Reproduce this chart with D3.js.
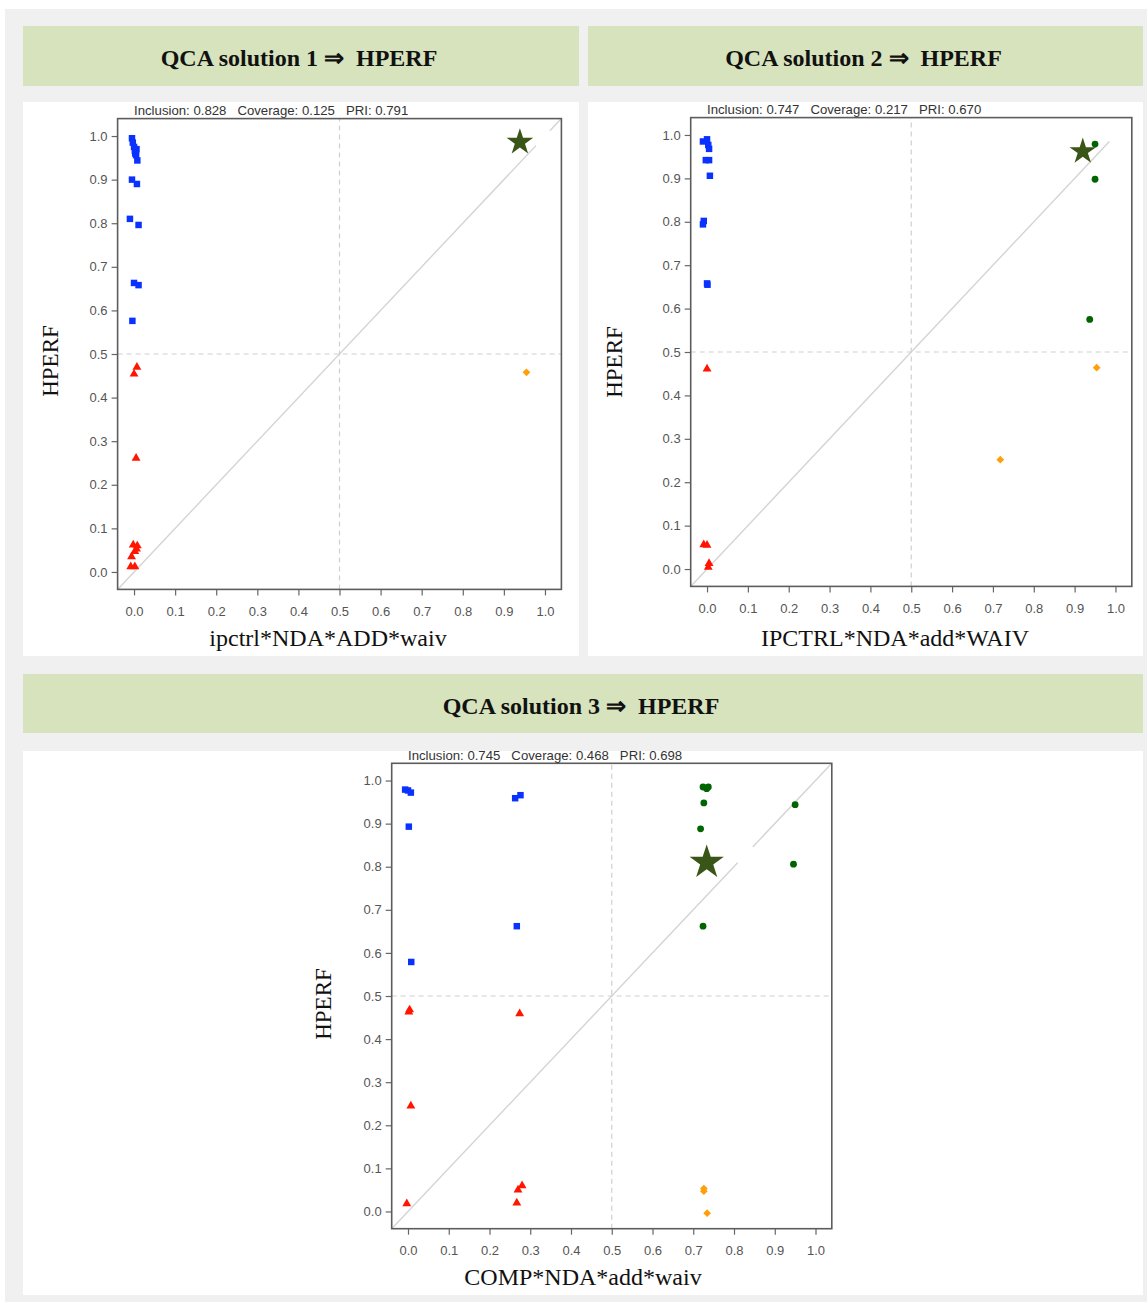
<!DOCTYPE html>
<html>
<head>
<meta charset="utf-8">
<script src="https://cdn.jsdelivr.net/npm/d3@7"></script>
<style>
	body { margin: 0; background: #fff; }
	text { white-space: pre; }
</style>
</head>
<body>
<svg id="chart" width="1147" height="1302"></svg>
<script>
// tick values shared by all three xy plots
var tickValues = [0, 0.1, 0.2, 0.3, 0.4, 0.5, 0.6, 0.7, 0.8, 0.9, 1.0];

// panel headings and fit lines
var headings = ["QCA solution 1 \u21d2  HPERF", "QCA solution 2 \u21d2  HPERF", "QCA solution 3 \u21d2  HPERF"];
var fitTitles = [
	"Inclusion: 0.828   Coverage: 0.125   PRI: 0.791",
	"Inclusion: 0.747   Coverage: 0.217   PRI: 0.670",
	"Inclusion: 0.745   Coverage: 0.468   PRI: 0.698"
];
var xLabels = ["ipctrl*NDA*ADD*waiv", "IPCTRL*NDA*add*WAIV", "COMP*NDA*add*waiv"];
var yLabel = "HPERF";

// solution 1: [membership in solution, HPERF]
var s1Squares = [[-0.005, 0.995], [-0.003, 0.985], [0.0, 0.975], [0.002, 0.966], [0.006, 0.97],
	[0.005, 0.956], [0.008, 0.944], [0.003, 0.96], [-0.005, 0.90], [0.007, 0.89],
	[-0.01, 0.81], [0.011, 0.796], [0.0, 0.663], [0.011, 0.658], [-0.004, 0.576]];
var s1Triangles = [[0.007, 0.47], [0.0, 0.454], [0.005, 0.261], [-0.002, 0.062], [0.008, 0.06],
	[0.006, 0.053], [0.002, 0.047], [-0.006, 0.035], [-0.008, 0.012], [0.002, 0.012]];
var s1Diamonds = [[0.955, 0.458]];
var s1Circles = [];
var s1Star = [0.939, 0.986];
var s1DiagGap = [0.978, 1.012];

// solution 2
var s2Squares = [[-0.01, 0.985], [0.0, 0.99], [0.003, 0.977], [0.005, 0.968], [-0.003, 0.942],
	[0.005, 0.942], [0.007, 0.906], [-0.008, 0.802], [-0.01, 0.794], [0.0, 0.658], [0.001, 0.655]];
var s2Triangles = [[0.0, 0.461], [-0.008, 0.056], [0.0, 0.055], [0.005, 0.013], [0.003, 0.004]];
var s2Diamonds = [[0.954, 0.464], [0.718, 0.252]];
var s2Circles = [[0.95, 0.979], [0.95, 0.898], [0.937, 0.575]];
var s2Star = [0.92, 0.962];
var s2DiagGap = [0.985, 1.05];

// solution 3
var s3Squares = [[-0.007, 0.979], [0.0, 0.977], [0.007, 0.972], [0.002, 0.893], [0.263, 0.959],
	[0.276, 0.966], [0.267, 0.662], [0.008, 0.579]];
var s3Triangles = [[0.004, 0.468], [0.002, 0.463], [0.274, 0.459], [0.007, 0.245], [-0.003, 0.018],
	[0.267, 0.02], [0.27, 0.05], [0.28, 0.06]];
var s3Diamonds = [[0.726, 0.053], [0.726, 0.047], [0.734, -0.004]];
var s3Circles = [[0.724, 0.985], [0.733, 0.981], [0.737, 0.985], [0.726, 0.948], [0.718, 0.888],
	[0.724, 0.662], [0.95, 0.944], [0.946, 0.806]];
var s3Star = [0.733, 0.81];
var s3DiagGap = [0.809, 0.846];

var COLORS = {
	square: "#0a32ff",
	triangle: "#ff1500",
	diamond: "#ffa00a",
	circle: "#006400",
	star: "#3a5518",
	header: "#d7e3bd",
	page: "#f0f0f0"
};
var SANS = "Liberation Sans, Arial, sans-serif";
var SERIF = "Liberation Serif, Times New Roman, serif";

var svg = d3.select("#chart");

// page background and white cards
svg.append("rect").attr("x", 5).attr("y", 9).attr("width", 1142).attr("height", 1293)
	.attr("fill", COLORS.page);

var cards = [
	{hx: 23, hy: 26, hw: 556, hh: 60, px: 23, py: 102, pw: 556, ph: 554},
	{hx: 588, hy: 26, hw: 555, hh: 60, px: 588, py: 102, pw: 555, ph: 554},
	{hx: 23, hy: 674, hw: 1120, hh: 59, px: 23, py: 751, pw: 1120, ph: 544}
];

cards.forEach(function (c, i) {
	svg.append("rect").attr("x", c.hx).attr("y", c.hy).attr("width", c.hw).attr("height", c.hh)
		.attr("fill", COLORS.header);
	svg.append("text")
		.attr("x", c.hx + c.hw / 2 - 2)
		.attr("y", c.hy + 40)
		.attr("text-anchor", "middle")
		.attr("font-family", SERIF)
		.attr("font-weight", "bold")
		.attr("font-size", "24px")
		.attr("fill", "#111")
		.text(headings[i]);
	svg.append("rect").attr("x", c.px).attr("y", c.py).attr("width", c.pw).attr("height", c.ph)
		.attr("fill", "#fff");
});

// plot geometry: pixel range for the R-style padded domain [-0.04, 1.04]
var plots = [
	{x0: 117.6, x1: 561.4, y0: 589.4, y1: 118.6, ylabX: 57.5, ylabY: 361, xlabX: 328, xlabY: 646,
		starR: 14, squares: s1Squares, triangles: s1Triangles, diamonds: s1Diamonds,
		circles: s1Circles, star: s1Star, gap: s1DiagGap},
	{x0: 690.7, x1: 1131.8, y0: 586.4, y1: 117.6, ylabX: 622, ylabY: 362, xlabX: 895, xlabY: 646,
		starR: 14, squares: s2Squares, triangles: s2Triangles, diamonds: s2Diamonds,
		circles: s2Circles, star: s2Star, gap: s2DiagGap},
	{x0: 391.7, x1: 831.8, y0: 1228.7, y1: 763.3, ylabX: 331, ylabY: 1004, xlabX: 583, xlabY: 1285,
		starR: 18, squares: s3Squares, triangles: s3Triangles, diamonds: s3Diamonds,
		circles: s3Circles, star: s3Star, gap: s3DiagGap}
];

var drawPlot = function (p, i) {
	var x = d3.scaleLinear().domain([-0.04, 1.04]).range([p.x0, p.x1]);
	var y = d3.scaleLinear().domain([-0.04, 1.04]).range([p.y0, p.y1]);
	var g = svg.append("g").attr("class", "plot");

	// diagonal (with the gap left by the pasted star)
	var diag = [[-0.04, p.gap[0]], [p.gap[1], 1.04]];
	diag.forEach(function (seg) {
		if (seg[1] <= seg[0]) {
			return;
		}
		g.append("line")
			.attr("x1", x(seg[0])).attr("y1", y(seg[0]))
			.attr("x2", x(seg[1])).attr("y2", y(seg[1]))
			.attr("stroke", "#d4d4d4").attr("stroke-width", 1.4);
	});

	// 0.5 crossover lines
	g.append("line")
		.attr("x1", x(0.5)).attr("x2", x(0.5)).attr("y1", p.y0).attr("y2", p.y1)
		.attr("stroke", "#cfcfcf").attr("stroke-width", 1.2).attr("stroke-dasharray", "5,4");
	g.append("line")
		.attr("x1", p.x0).attr("x2", p.x1).attr("y1", y(0.5)).attr("y2", y(0.5))
		.attr("stroke", "#cfcfcf").attr("stroke-width", 1.2).attr("stroke-dasharray", "5,4");

	// axes
	var fmt = d3.format(".1f");
	var xAxis = g.append("g")
		.attr("transform", "translate(0," + p.y0 + ")")
		.call(d3.axisBottom(x).tickValues(tickValues).tickFormat(fmt).tickSize(6).tickPadding(11));
	var yAxis = g.append("g")
		.attr("transform", "translate(" + p.x0 + ",0)")
		.call(d3.axisLeft(y).tickValues(tickValues).tickFormat(fmt).tickSize(6).tickPadding(4));
	[xAxis, yAxis].forEach(function (a) {
		a.select(".domain").remove();
		a.selectAll("line").attr("stroke", "#666").attr("stroke-width", 1.2);
		a.selectAll("text")
			.attr("font-family", SANS)
			.attr("font-size", "13px")
			.attr("fill", "#555");
	});

	// frame
	g.append("rect")
		.attr("x", p.x0).attr("y", p.y1)
		.attr("width", p.x1 - p.x0).attr("height", p.y0 - p.y1)
		.attr("fill", "none").attr("stroke", "#5c5c5c").attr("stroke-width", 1.6);

	// fit parameters above the frame
	g.append("text")
		.attr("x", x(0))
		.attr("y", p.y1 - 3.5)
		.attr("font-family", SANS)
		.attr("font-size", "13.2px")
		.attr("fill", "#333")
		.text(fitTitles[i]);

	// axis titles
	g.append("text")
		.attr("transform", "translate(" + p.ylabX + "," + p.ylabY + ") rotate(-90)")
		.attr("text-anchor", "middle")
		.attr("font-family", SERIF)
		.attr("font-size", "23px")
		.attr("fill", "#111")
		.text(yLabel);
	g.append("text")
		.attr("x", p.xlabX)
		.attr("y", p.xlabY)
		.attr("text-anchor", "middle")
		.attr("font-family", SERIF)
		.attr("font-size", "24px")
		.attr("fill", "#111")
		.text(xLabels[i]);

	// cases
	var pos = function (d) {
		return "translate(" + x(d[0]) + "," + y(d[1]) + ")";
	};
	g.selectAll(".sq").data(p.squares).enter().append("path")
		.attr("class", "sq")
		.attr("transform", pos)
		.attr("d", d3.symbol(d3.symbolSquare, 42))
		.attr("fill", COLORS.square);
	g.selectAll(".tri").data(p.triangles).enter().append("path")
		.attr("class", "tri")
		.attr("transform", pos)
		.attr("d", d3.symbol(d3.symbolTriangle, 34))
		.attr("fill", COLORS.triangle);
	g.selectAll(".dia").data(p.diamonds).enter().append("path")
		.attr("class", "dia")
		.attr("transform", function (d) { return pos(d) + " rotate(45)"; })
		.attr("d", d3.symbol(d3.symbolSquare, 30))
		.attr("fill", COLORS.diamond);
	g.selectAll(".dot").data(p.circles).enter().append("circle")
		.attr("class", "dot")
		.attr("cx", function (d) { return x(d[0]); })
		.attr("cy", function (d) { return y(d[1]); })
		.attr("r", 3.4)
		.attr("fill", COLORS.circle);

	// solution star
	var starSize = (p.starR * p.starR) / 0.8908130915292852;
	g.append("path")
		.attr("transform", pos(p.star))
		.attr("d", d3.symbol(d3.symbolStar, starSize))
		.attr("fill", COLORS.star);
};

plots.forEach(drawPlot);
</script>
</body>
</html>
